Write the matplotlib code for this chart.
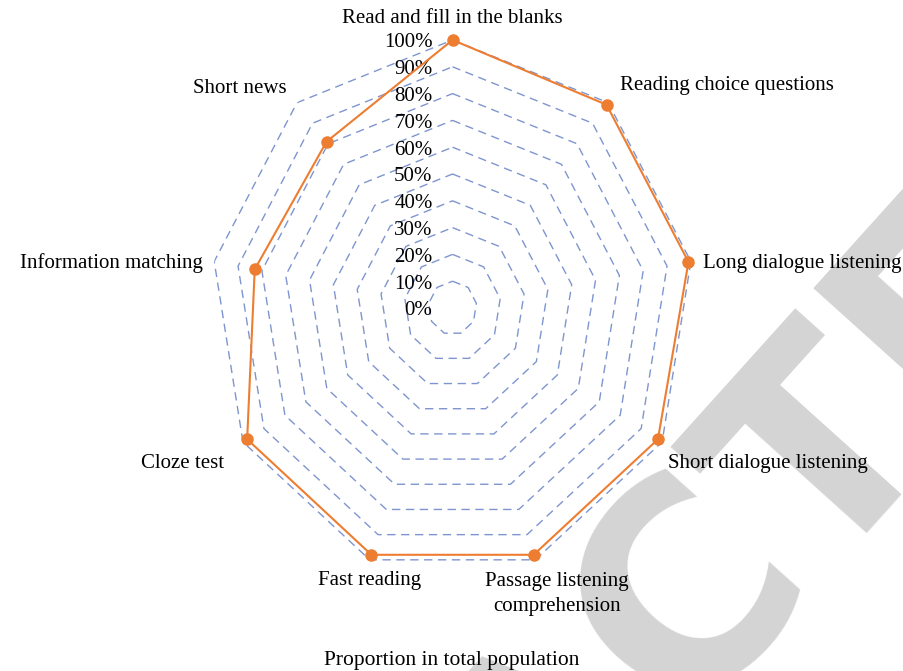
import numpy as np
import matplotlib.pyplot as plt

# Share of each question type in the total population (%)
categories = ["Read and fill in the blanks", "Reading choice questions",
              "Long dialogue listening", "Short dialogue listening",
              "Passage listening\ncomprehension", "Fast reading", "Cloze test",
              "Information matching", "Short news"]
proportion = [100, 99, 99, 98, 98, 98, 98, 83, 81]
ring_levels = [10, 20, 30, 40, 50, 60, 70, 80, 90, 100]
tick_values = [0, 10, 20, 30, 40, 50, 60, 70, 80, 90, 100]
tick_labels = [f"{v}%" for v in tick_values]
series_name = "Proportion in total population"

ORANGE = "#ED7D31"
GRID = "#7f95cf"
FONT = "Liberation Serif"

fig = plt.figure(figsize=(9.04, 6.71), dpi=100)

# big grey stamp behind the chart
fig.text(607 / 904, (671 - 793) / 671, "RETRACTED", rotation=48,
         rotation_mode="anchor", ha="center", va="baseline",
         fontsize=200, fontweight="bold", color="#d4d4d4",
         family="DejaVu Sans", zorder=-5)

ax = fig.add_axes([0.2329, 0.1416, 0.5354, 0.7988], projection="polar")
ax.set_aspect("auto")
ax.set_theta_zero_location("N")
ax.set_theta_direction(-1)
ax.set_ylim(0, 100)
ax.grid(False)
ax.spines["polar"].set_visible(False)
ax.set_xticks([])
ax.set_yticks([])
ax.patch.set_visible(False)

n = len(categories)
theta = np.linspace(0, 2 * np.pi, n, endpoint=False)
theta_closed = np.append(theta, theta[0])

# polygon gridlines
for lv in ring_levels:
    ax.plot(theta_closed, [lv] * (n + 1), color=GRID, lw=1.0,
            dashes=(6, 4), zorder=1)

# radial axis labels
for v, lab in zip(tick_values, tick_labels):
    ax.annotate(lab, xy=(0, v), xytext=(-20, -3), textcoords="offset pixels",
                ha="right", va="center", fontsize=15, family=FONT, zorder=3)

# data series
vals = np.append(proportion, proportion[0])
ax.plot(theta_closed, vals, color=ORANGE, lw=1.5, zorder=4, clip_on=False)
ax.plot(theta, proportion, "o", color=ORANGE, ms=8, zorder=5, clip_on=False)

# category labels around the outer ring
label_offsets = [(0, 21), (12, 17), (12, -2), (6, -22), (22, -34),
                 (0, -21), (-19, -22), (-11, -2), (-10, 14)]
label_ha = ["center", "left", "left", "left", "center",
            "center", "right", "right", "right"]
for t, cat, off, ha in zip(theta, categories, label_offsets, label_ha):
    ax.annotate(cat, xy=(t, 100), xytext=off, textcoords="offset pixels",
                ha=ha, va="center", fontsize=15, family=FONT,
                multialignment="center", linespacing=1.45, zorder=3,
                annotation_clip=False)

fig.text(0.5, (671 - 660) / 671, series_name, ha="center", va="center",
         fontsize=15.5, family=FONT)

fig.savefig("out.png", dpi=100)
